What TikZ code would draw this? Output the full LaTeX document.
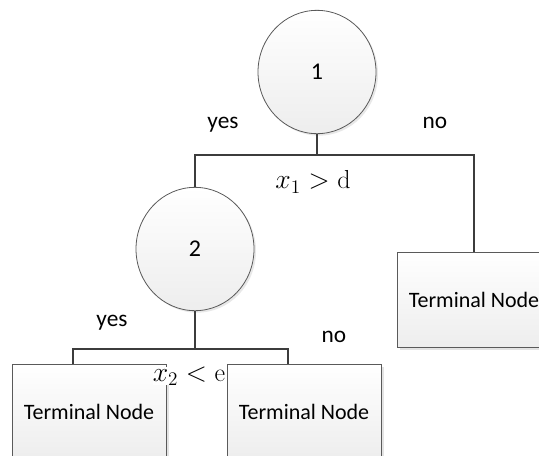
\documentclass[tikz,border=0pt]{standalone}
\usepackage{fontspec}
\setmainfont{Carlito}
\setmathrm{Latin Modern Roman}
\usetikzlibrary{shapes.geometric,shadows,calc}
\definecolor{edgegray}{HTML}{5A5A5A}
\definecolor{linegray}{HTML}{3C3C3C}
\begin{document}
\begin{tikzpicture}[x=0.75pt,y=-0.75pt,
  decision/.style={ellipse,draw=edgegray,line width=0.6pt,
    top color=white,bottom color=gray!14,
    minimum width=88.5pt,minimum height=92.5pt,inner sep=0pt,
    font=\fontsize{18}{21}\selectfont,
    drop shadow={opacity=0.18,shadow xshift=1.5pt,shadow yshift=-1.5pt}},
  leaf/.style={rectangle,draw=edgegray,line width=0.6pt,
    top color=white,bottom color=gray!14,
    minimum width=115.5pt,minimum height=71pt,inner sep=0pt,
    font=\fontsize{16.5}{19}\selectfont,
    drop shadow={opacity=0.22,shadow xshift=2pt,shadow yshift=-2pt}},
  branch/.style={draw=linegray,line width=0.8pt},
  answer/.style={font=\fontsize{17.5}{20}\selectfont,inner sep=0pt},
  rule/.style={font=\fontsize{19.5}{22}\selectfont,inner sep=0pt,fill=white}]
\useasboundingbox (0,0) rectangle (539,455);
\clip (0,0) rectangle (539,455);

% split nodes
\node[decision] (n1) at (317,72) {1};
\node[decision] (n2) at (195,249) {2};

% terminal nodes
\node[leaf] (t1) at (474,300) {Terminal Node};
\node[leaf] (t2) at (89,412) {Terminal Node};
\node[leaf] (t3) at (304,412) {Terminal Node};

% branch points
\coordinate (b1) at (317,155);
\coordinate (b2) at (195,349);

% first split
\draw[branch] (n1.south) -- (b1);
\draw[branch] (b1) -| (n2.north);
\draw[branch] (b1) -| (t1.north);

% second split
\draw[branch] (n2.south) -- (b2);
\draw[branch] (b2) -| ([xshift=-12pt]t2.north);
\draw[branch] (b2) -| ([xshift=-12pt]t3.north);

% labels
\node[answer] (y1) at (223,125) {yes};
\node[answer] (no1) at (435,123) {no};
\node[rule] (r1) at (313,182) {$x_1 > \mathrm{d}$};
\node[answer] (y2) at (112,323) {yes};
\node[answer] (no2) at (334,337) {no};
\node[rule] (r2) at (189,376) {$x_2 < \mathrm{e}$};
\end{tikzpicture}
\end{document}
